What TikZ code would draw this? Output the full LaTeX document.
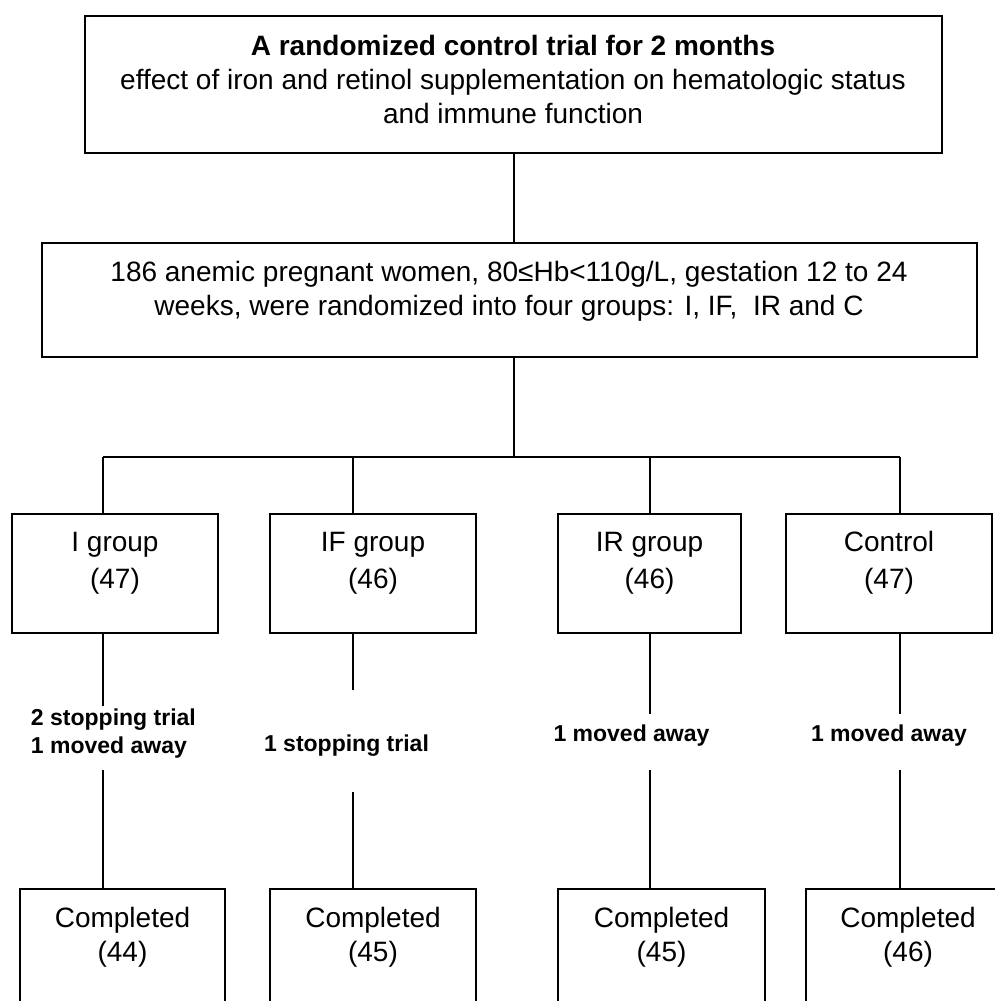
\documentclass[tikz,border=0pt]{standalone}
\usepackage{fontspec}
\setmainfont{Liberation Sans}

\begin{document}
\begin{tikzpicture}[x=0.5pt, y=-0.5pt, line width=1pt,
		box/.style={draw, line width=1pt, inner sep=0pt},
		txt/.style={align=center, inner sep=0pt, font=\fontsize{14}{17}\selectfont},
		grp/.style={align=center, inner sep=0pt, font=\fontsize{14}{18.5}\selectfont},
		note/.style={align=left, inner xsep=0pt, inner ysep=4pt, font=\fontsize{11.5}{14}\selectfont\bfseries}]
	\useasboundingbox (0,0) rectangle (995,1001);
	% trial and randomisation boxes
	\node[box, minimum width=428.5pt, minimum height=68.5pt] (b1) at (513.5,84.5) {};
	\node[txt] (b1t) at (513,79) {\textbf{A randomized control trial for 2 months}\\
		effect of iron and retinol supplementation on hematologic status\\
		and immune function};
	\node[box, minimum width=467.5pt, minimum height=57pt] (b2) at (509.5,300) {};
	\node[txt] (b2t) at (509,291.5) {186 anemic pregnant women, 80≤Hb<110g/L, gestation 12 to 24\\
		weeks, were randomized into four groups: I, IF,\ \ IR and C};
	% groups
	\node[box, minimum width=103pt, minimum height=59.5pt] (gI) at (115,573.5) {};
	\node[box, minimum width=103pt, minimum height=59.5pt] (gIF) at (373,573.5) {};
	\node[box, minimum width=91.5pt, minimum height=59.5pt] (gIR) at (649.5,573.5) {};
	\node[box, minimum width=103pt, minimum height=59.5pt] (gC) at (889,573.5) {};
	\node[grp] (gIt) at (115,563) {I group\\(47)};
	\node[grp] (gIFt) at (373,563) {IF group\\(46)};
	\node[grp] (gIRt) at (649.5,563) {IR group\\(46)};
	\node[grp] (gCt) at (889,563) {Control\\(47)};
	% losses
	\node[note, anchor=west] (lI) at (30,734) {2 stopping trial\\1 moved away};
	\node[note] (lIF) at (346.5,746) {1 stopping trial};
	\node[note] (lIR) at (631.5,736) {1 moved away};
	\node[note] (lC) at (889,736) {1 moved away};
	% completed
	\node[box, minimum width=102.5pt, minimum height=65pt] (cI) at (122.5,954) {};
	\node[box, minimum width=103pt, minimum height=65pt] (cIF) at (373,954) {};
	\node[box, minimum width=103.5pt, minimum height=65pt] (cIR) at (661.5,954) {};
	\node[box, minimum width=103pt, minimum height=65pt] (cC) at (909,954) {};
	\node[txt] (cIt) at (122.5,937) {Completed\\(44)};
	\node[txt] (cIFt) at (373,937) {Completed\\(45)};
	\node[txt] (cIRt) at (661.5,937) {Completed\\(45)};
	\node[txt] (cCt) at (908,937) {Completed\\(46)};
	% connectors
	\coordinate (jI) at (103,457);
	\coordinate (jIF) at (353,457);
	\coordinate (jIR) at (650,457);
	\coordinate (jC) at (900,457);
	\draw (b1.south) -- (b1.south |- b2.north);
	\draw (b1.south |- b2.south) -- (b1.south |- jI);
	\draw (jI) -- (jC);
	\foreach \g in {I,IF,IR,C}
		\draw (j\g) -- (j\g |- g\g.north);
	\draw[shorten >=-3pt] (jI |- gI.south) -- (jI |- lI.north);
	\draw[shorten <=1pt] (jI |- lI.south) -- (jI |- cI.north);
	\draw[shorten >=18pt] (jIF |- gIF.south) -- (jIF |- lIF.north);
	\draw[shorten <=13pt] (jIF |- lIF.south) -- (jIF |- cIF.north);
	\foreach \g in {IR,C}{
		\draw[shorten >=1pt] (j\g |- g\g.south) -- (j\g |- l\g.north);
		\draw[shorten <=7pt] (j\g |- l\g.south) -- (j\g |- c\g.north);
	}
\end{tikzpicture}
\end{document}
